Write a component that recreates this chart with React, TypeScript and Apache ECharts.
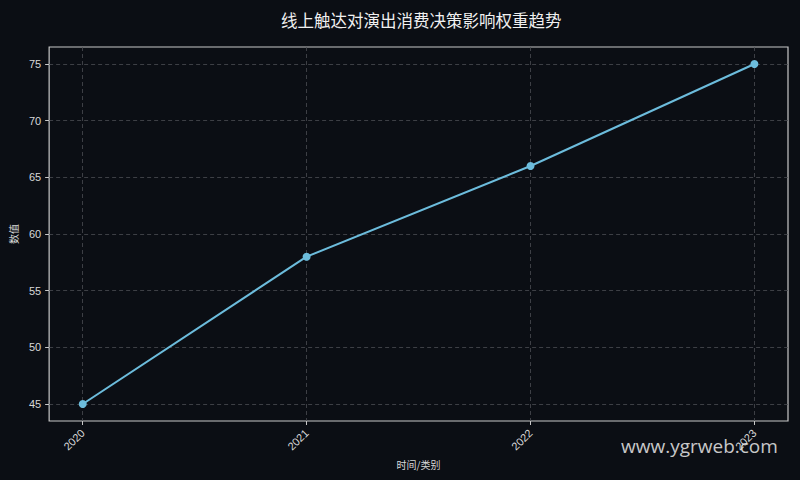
import React, { useEffect, useRef } from "react";
import * as echarts from "echarts";

const years = [2020, 2021, 2022, 2023];
const weights = [45, 58, 66, 75];
const yTicks = [45, 50, 55, 60, 65, 70, 75];

const TITLE = "线上触达对演出消费决策影响权重趋势";
const TEXT_COLOR = "#d8d8d8";
const LINE_COLOR = "#6cbcdc";
const TICK_FONT = "'Liberation Sans', Arial, sans-serif";

const App: React.FC = () => {
  const chartRef = useRef<HTMLDivElement>(null);

  useEffect(() => {
    if (!chartRef.current) return;
    const chart = echarts.init(chartRef.current, null, { renderer: "svg" });

    chart.setOption({
      animation: false,
      backgroundColor: "#0b0e14",
      textStyle: { fontFamily: "'Noto Sans CJK SC', 'DejaVu Sans', sans-serif" },
      title: {
        text: TITLE,
        left: 276,
        top: 7,
        textStyle: { color: "#f0f0f0", fontSize: 16.5, fontWeight: "normal" },
      },
      grid: {
        left: 46,
        right: 12,
        top: 47,
        bottom: 59,
        show: true,
        borderColor: "#c8c8c8",
        borderWidth: 1.2,
        backgroundColor: "transparent",
      },
      xAxis: {
        type: "value",
        min: 2019.85,
        max: 2023.15,
        name: "时间/类别",
        nameLocation: "middle",
        nameGap: 38,
        nameTextStyle: { color: TEXT_COLOR, fontSize: 10 },
        axisLine: { show: false },
        axisTick: {
          show: true,
          customValues: years,
          length: 4,
          lineStyle: { color: "#c8c8c8" },
        },
        axisLabel: {
          customValues: years,
          rotate: 45,
          color: TEXT_COLOR,
          fontSize: 11,
          fontFamily: TICK_FONT,
          margin: 10,
          formatter: (v: number) => String(Math.round(v)),
        },
        splitLine: {
          show: true,
          lineStyle: { color: "#4a4d52", type: [4, 3], width: 0.8 },
        },
      },
      yAxis: {
        type: "value",
        min: 43.5,
        max: 76.5,
        name: "数值",
        nameLocation: "middle",
        nameGap: 30,
        nameRotate: 90,
        nameTextStyle: { color: TEXT_COLOR, fontSize: 10 },
        axisLine: { show: false },
        axisTick: {
          show: true,
          customValues: yTicks,
          length: 4,
          lineStyle: { color: "#c8c8c8" },
        },
        axisLabel: {
          customValues: yTicks,
          color: TEXT_COLOR,
          fontSize: 11,
          fontFamily: TICK_FONT,
          margin: 8,
        },
        splitLine: {
          show: true,
          lineStyle: { color: "#4a4d52", type: [4, 3], width: 0.8 },
        },
      },
      series: [
        {
          type: "line",
          data: years.map((y, i) => [y, weights[i]]),
          symbol: "circle",
          symbolSize: 8,
          lineStyle: { color: LINE_COLOR, width: 2 },
          itemStyle: { color: LINE_COLOR },
        },
      ],
      graphic: [
        {
          type: "text",
          left: 621,
          top: 436,
          z: 100,
          style: {
            text: "www.ygrweb.com",
            fill: "rgba(235,235,235,0.85)",
            fontSize: 19,
            fontFamily: "'Open Sans', 'Noto Sans', sans-serif",
          },
        },
      ],
    });

    return () => {
      chart.dispose();
    };
  }, []);

  return (
    <div
      ref={chartRef}
      style={{ position: "fixed", left: 0, top: 0, width: 800, height: 480 }}
    />
  );
};

export default App;
